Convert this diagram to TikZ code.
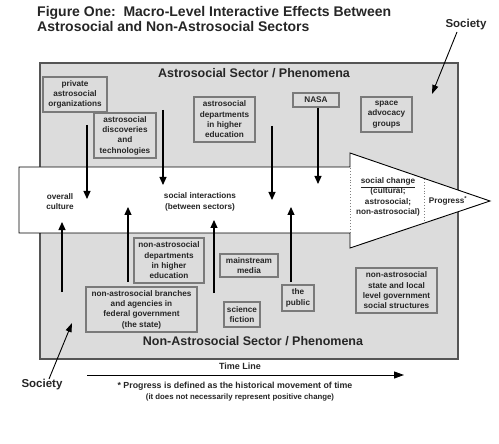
\documentclass[tikz,border=0pt]{standalone}
\usepackage{fontspec}
\setmainfont{Liberation Sans}
\usetikzlibrary{arrows.meta}
\definecolor{bggray}{HTML}{DCDCDC}
\definecolor{edgegray}{HTML}{555555}
\definecolor{boxedge}{HTML}{7A7A7A}
\definecolor{txt}{HTML}{262626}
\tikzset{
  sbox/.style={draw=boxedge, line width=1.2pt, fill=bggray, inner sep=0pt, align=center,
    text=txt, font=\bfseries\fontsize{8.2}{10.3}\selectfont},
  lbl/.style={inner sep=0pt, align=center, text=txt, font=\bfseries\fontsize{8.2}{10.3}\selectfont},
  flow/.style={draw=black, line width=1.1pt, -{Triangle[length=8pt,width=7pt]}},
  soc/.style={draw=black, line width=0.9pt, -{Triangle[length=9pt,width=6pt]}},
}
\begin{document}
\begin{tikzpicture}[x=1pt,y=-1pt]
\useasboundingbox (0,0) rectangle (499,444);
\fill[white] (0,0) rectangle (499,444);
% title
\node[anchor=north west, inner sep=0pt, align=left, text=txt,
  font=\bfseries\fontsize{14}{15.5}\selectfont] (title) at (37,6)
  {Figure One:\ \ Macro-Level Interactive Effects Between\\Astrosocial and Non-Astrosocial Sectors};
% outer panel
\draw[draw=edgegray, line width=1.6pt, fill=bggray] (40,63) rectangle (458,359);
\node[lbl, font=\bfseries\fontsize{12.5}{14}\selectfont] (astro) at (254,73) {Astrosocial Sector / Phenomena};
\node[lbl, font=\bfseries\fontsize{12.5}{14}\selectfont] (nonastro) at (253,341) {Non-Astrosocial Sector / Phenomena};
% big arrow
\draw[line width=0.9pt, fill=white] (19,167) -- (350,167) -- (350,153) -- (490,201) -- (350,248) -- (350,233) -- (19,233) -- cycle;
\draw[gray, dotted, line width=0.9pt] (350,168) -- (350,232);
\draw[gray, dotted, line width=0.9pt] (424,179) -- (424,223);
% upper boxes
\node[sbox, minimum width=64pt, minimum height=35pt] (priv) at (75,94.5) {private\\astrosocial\\organizations};
\node[sbox, minimum width=62pt, minimum height=45pt] (disc) at (125,135.5) {astrosocial\\discoveries\\and\\technologies};
\node[sbox, minimum width=61pt, minimum height=45pt] (adep) at (224.5,119.5) {astrosocial\\departments\\in higher\\education};
\node[sbox, minimum width=46pt, minimum height=14pt] (nasa) at (316,100) {NASA};
\node[sbox, minimum width=51pt, minimum height=35pt] (space) at (386.5,114.5) {space\\advocacy\\groups};
% lower boxes
\node[sbox, minimum width=70pt, minimum height=45pt] (nadep) at (169,260.5) {non-astrosocial\\departments\\in higher\\education};
\node[sbox, minimum width=111pt, minimum height=45pt] (branch) at (141.5,309.5) {non-astrosocial branches\\and agencies in\\federal government\\(the state)};
\node[sbox, minimum width=58pt, minimum height=23pt] (media) at (249,265.5) {mainstream\\media};
\node[sbox, minimum width=36pt, minimum height=25pt] (scifi) at (242,314.5) {science\\fiction};
\node[sbox, minimum width=32pt, minimum height=26pt] (public) at (298,298) {the\\public};
\node[sbox, minimum width=81pt, minimum height=45pt] (state) at (396.5,290.5) {non-astrosocial\\state and local\\level government\\social structures};
% labels in arrow
\node[lbl] (culture) at (60,201.5) {overall\\culture};
\node[lbl] (inter) at (200,202) {social interactions\\(between sectors)};
\node[lbl] (change) at (388,197) {\underline{social change}\\(cultural;\\astrosocial;\\non-astrosocial)};
\node[lbl] (prog) at (448,201) {Progress\textsuperscript{*}};
% down arrows
\coordinate (d1s) at (87,125); \coordinate (d1e) at (87,199);
\coordinate (d2s) at (163,110); \coordinate (d2e) at (163,185);
\coordinate (d3s) at (272,126); \coordinate (d3e) at (272,200);
\coordinate (d4e) at (318,184);
\draw[flow] (d1s) -- (d1e);
\draw[flow] (d2s) -- (d2e);
\draw[flow] (d3s) -- (d3e);
\draw[flow] (nasa.south -| d4e) -- (d4e);
% up arrows
\coordinate (u1s) at (62,292); \coordinate (u1e) at (62,222);
\coordinate (u2s) at (128,282); \coordinate (u2e) at (128,207);
\coordinate (u3s) at (214,293); \coordinate (u3e) at (214,220);
\coordinate (u4s) at (291,282); \coordinate (u4e) at (291,207);
\draw[flow] (u1s) -- (u1e);
\draw[flow] (u2s) -- (u2e);
\draw[flow] (u3s) -- (u3e);
\draw[flow] (u4s) -- (u4e);
% society labels
\node[lbl, font=\bfseries\fontsize{11.5}{13}\selectfont] (soc1) at (466,25) {Society};
\node[lbl, font=\bfseries\fontsize{11.5}{13}\selectfont] (soc2) at (42,385) {Society};
\coordinate (s1e) at (432,94);
\coordinate (s2e) at (72,323);
\draw[soc] (457,32) -- (s1e);
\draw[soc] (49,379) -- (s2e);
% time line
\node[lbl, font=\bfseries\fontsize{9}{10}\selectfont] (tl) at (240,366) {Time Line};
\coordinate (t0) at (87,375); \coordinate (t1) at (404,375);
\draw[line width=1pt, -{Triangle[length=10pt,width=7pt]}] (t0) -- (t1);
\node[lbl, font=\bfseries\fontsize{8.8}{10}\selectfont] (note1) at (235,386) {* Progress is defined as the historical movement of time};
\node[lbl, font=\bfseries\fontsize{7.8}{9}\selectfont] (note2) at (240,398) {(it does not necessarily represent positive change)};
\end{tikzpicture}
\end{document}
